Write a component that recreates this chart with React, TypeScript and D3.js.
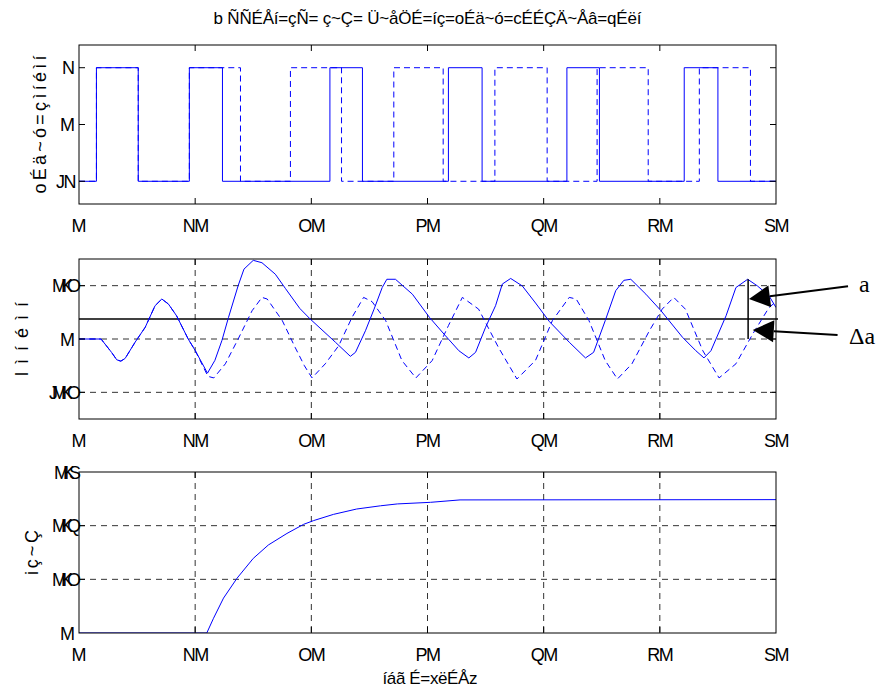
import React from "react";
import * as d3 from "d3";

// ---------- data ----------
const xTicks = [0, 10, 20, 30, 40, 50, 60];
const xTickLabels = ["M", "NM", "OM", "PM", "QM", "RM", "SM"];

const relayTicks = [-1, 0, 1];
const relayTickLabels = ["JN", "M", "N"];
const outTicks = [-0.2, 0, 0.2];
const outTickLabels = ["JMKO", "M", "MKO"];
const loadTicks = [0, 0.2, 0.4, 0.6];
const loadTickLabels = ["M", "MKO", "MKQ", "MKS"];

const titleText = "b ÑÑÉÅí=çÑ= ç~Ç= Ü~åÖÉ=íç=oÉä~ó=cÉÉÇÄ~Åâ=qÉëí";
const yLabel1 = "oÉä~ó=çìíéìí";
const yLabel2 = "lìíéìí";
const yLabel3 = "iç~Ç";
const xLabelText = "íáã É=xëÉÅz";

// relay output (step signals): switching times and levels
const relaySolidT = [0, 1.5, 5.1, 9.5, 12.35, 21.6, 24.4, 31.8, 34.7, 42.0, 44.8, 52.1, 55.0, 60];
const relaySolidV = [-1, 1, -1, 1, -1, 1, -1, 1, -1, 1, -1, 1, -1, -1];
const relayDashT = [0, 1.5, 5.1, 9.5, 13.9, 18.2, 22.6, 27.1, 31.35, 35.8, 40.3, 44.6, 49.0, 53.4, 57.8, 60];
const relayDashV = [-1, 1, -1, 1, -1, 1, -1, 1, -1, 1, -1, 1, -1, 1, -1, -1];

// process output
const outSolidT = [0, 1.9, 2.8, 3.25, 3.6, 3.97, 4.83, 5.7, 6.55, 7.13, 7.7, 8.4, 9.4, 10.0, 11.06, 11.7, 12.3, 12.87, 13.7, 14.2, 15.0, 15.75, 16.9, 17.76, 19.0, 19.9, 22.07, 23.36, 23.8, 24.66, 25.4, 26.1, 26.5, 27.24, 28.7, 30.17, 31.55, 32.7, 33.56, 34.14, 35.0, 35.86, 36.44, 37.16, 38.16, 39.3, 40.5, 42.2, 43.6, 44.3, 45.3, 46.2, 46.9, 47.5, 48.8, 50.1, 51.96, 53.1, 53.8, 54.4, 55.7, 56.55, 57.56, 58.4, 59.4, 60];
const outSolidV = [0, 0, -0.05, -0.078, -0.083, -0.073, -0.012, 0.044, 0.125, 0.15, 0.131, 0.087, 0, -0.043, -0.128, -0.08, -0.006, 0.081, 0.2, 0.262, 0.295, 0.286, 0.243, 0.19, 0.115, 0.075, -0.012, -0.065, -0.05, 0.031, 0.112, 0.193, 0.224, 0.224, 0.168, 0.081, 0.012, -0.044, -0.071, -0.05, 0.044, 0.125, 0.206, 0.227, 0.199, 0.135, 0.065, -0.012, -0.071, -0.05, 0.069, 0.181, 0.22, 0.224, 0.168, 0.106, 0.006, -0.044, -0.071, -0.044, 0.087, 0.193, 0.224, 0.199, 0.162, 0.118];
const outDashT = [0, 1.9, 2.8, 3.25, 3.6, 3.97, 4.83, 5.7, 6.55, 7.13, 7.7, 8.4, 9.4, 10.0, 11.1, 11.6, 12.6, 13.7, 14.9, 15.75, 16.2, 17.5, 18.6, 19.4, 20.06, 21.2, 22.36, 23.5, 24.5, 25.23, 26.4, 27.8, 29.0, 30.4, 31.8, 33.0, 34.4, 36.1, 37.7, 39.3, 40.75, 42.2, 42.8, 43.9, 45.3, 46.35, 47.6, 49.1, 50.2, 51.2, 52.2, 53.7, 55.1, 56.55, 58.0, 59.4, 60];
const outDashV = [0, 0, -0.05, -0.078, -0.083, -0.073, -0.012, 0.044, 0.125, 0.15, 0.131, 0.087, 0, -0.043, -0.14, -0.146, -0.093, 0, 0.106, 0.156, 0.15, 0.069, -0.031, -0.1, -0.146, -0.093, -0.025, 0.081, 0.156, 0.14, 0.069, -0.081, -0.146, -0.081, 0.05, 0.156, 0.112, -0.031, -0.15, -0.08, 0.069, 0.156, 0.15, 0.069, -0.081, -0.15, -0.093, 0.031, 0.112, 0.156, 0.112, -0.044, -0.146, -0.093, 0.019, 0.118, 0.14];

// load estimate
const loadT = [0, 11.0, 11.58, 12.44, 13.6, 15.0, 16.3, 17.9, 19.34, 20.2, 21.9, 23.9, 25.95, 27.4, 30.26, 32.8, 60];
const loadV = [0, 0, 0.055, 0.13, 0.204, 0.278, 0.328, 0.371, 0.405, 0.419, 0.442, 0.462, 0.474, 0.481, 0.487, 0.496, 0.497];

// annotation (data coordinates)
const refLevel = 0.075;
const markT = 57.6;
const markTop = 0.224;
const arrowA = { tail: [66.2, 0.198], tip: [57.67, 0.15] };
const arrowDA = { tail: [65.3, 0.015], tip: [58.0, 0.034] };

// ---------- layout ----------
const W = 877;
const H = 693;
const L = 79;
const R = 776;
const BLUE = "#0000ff";
const SANS = "'Liberation Sans', Arial, sans-serif";
const SERIF = "'Liberation Serif', 'Times New Roman', serif";

const x = d3.scaleLinear().domain([0, 60]).range([L, R]);

type PanelProps = {
  id: string;
  top: number;
  bottom: number;
  domain: [number, number];
  yTicks: number[];
  yTickLabels: string[];
  grid: boolean;
  yLabel: string;
  yLabelX: number;
  yLabelLen: number;
  children?: (y: d3.ScaleLinear<number, number>) => React.ReactNode;
};

function spacingFor(s: string) {
  if (s.includes("K")) return -6;
  if (s.length > 1) return -1.5;
  return 0;
}

function Panel(p: PanelProps) {
  const y = d3.scaleLinear().domain(p.domain).range([p.bottom, p.top]);
  const tickLen = 6;
  const innerX = xTicks.filter((t) => t > 0 && t < 60);
  const innerY = p.yTicks.filter((t) => t > p.domain[0] && t < p.domain[1]);
  const cy = (p.top + p.bottom) / 2;
  return (
    <g>
      <defs>
        <clipPath id={"clip" + p.id}>
          <rect x={L} y={p.top} width={R - L} height={p.bottom - p.top} />
        </clipPath>
      </defs>
      <rect x={L} y={p.top} width={R - L} height={p.bottom - p.top} fill="#fff" />
      {p.grid && (
        <g stroke="#333" strokeWidth={1} strokeDasharray="6,5">
          {innerX.map((t) => (
            <line key={"gx" + t} x1={x(t)} x2={x(t)} y1={p.top} y2={p.bottom} />
          ))}
          {innerY.map((t) => (
            <line key={"gy" + t} x1={L} x2={R} y1={y(t)} y2={y(t)} />
          ))}
        </g>
      )}
      <g clipPath={`url(#clip${p.id})`}>{p.children && p.children(y)}</g>
      <g stroke="#000" strokeWidth={1}>
        {innerX.map((t) => (
          <g key={"tx" + t}>
            <line x1={x(t)} x2={x(t)} y1={p.bottom} y2={p.bottom - tickLen} />
            <line x1={x(t)} x2={x(t)} y1={p.top} y2={p.top + tickLen} />
          </g>
        ))}
        {innerY.map((t) => (
          <g key={"ty" + t}>
            <line x1={L} x2={L + tickLen} y1={y(t)} y2={y(t)} />
            <line x1={R} x2={R - tickLen} y1={y(t)} y2={y(t)} />
          </g>
        ))}
        <rect x={L} y={p.top} width={R - L} height={p.bottom - p.top} fill="none" />
      </g>
      <g fontFamily={SANS} fontSize={18} fill="#000">
        {xTicks.map((t, i) => (
          <text
            key={"xl" + t}
            x={x(t)}
            y={p.bottom + 28}
            textAnchor="middle"
            letterSpacing={spacingFor(xTickLabels[i])}
          >
            {xTickLabels[i]}
          </text>
        ))}
        {p.yTicks.map((t, i) => (
          <text
            key={"yl" + t}
            x={L - 4}
            y={y(t) + 6.5}
            textAnchor="end"
            letterSpacing={spacingFor(p.yTickLabels[i])}
          >
            {p.yTickLabels[i]}
          </text>
        ))}
      </g>
      <text
        transform={`translate(${p.yLabelX},${cy}) rotate(-90)`}
        textAnchor="middle"
        fontFamily={SANS}
        fontSize={18}
        textLength={p.yLabelLen}
        lengthAdjust="spacing"
      >
        {p.yLabel}
      </text>
    </g>
  );
}

function Arrow({ tail, tip, y }: { tail: number[]; tip: number[]; y: d3.ScaleLinear<number, number> }) {
  const x0 = x(tail[0]);
  const y0 = y(tail[1]);
  const x1 = x(tip[0]);
  const y1 = y(tip[1]);
  const ang = Math.atan2(y1 - y0, x1 - x0);
  const len = 21;
  const hw = 11;
  const bx = x1 - len * Math.cos(ang);
  const by = y1 - len * Math.sin(ang);
  const px = -Math.sin(ang) * hw;
  const py = Math.cos(ang) * hw;
  const head = d3.path();
  head.moveTo(x1, y1);
  head.lineTo(bx + px, by + py);
  head.lineTo(bx - px, by - py);
  head.closePath();
  return (
    <g>
      <line x1={x0} y1={y0} x2={bx} y2={by} stroke="#000" strokeWidth={2} />
      <path d={head.toString()} fill="#000" />
    </g>
  );
}

export default function App() {
  const stepLine = (ts: number[], vs: number[], y: d3.ScaleLinear<number, number>) =>
    d3
      .line<number>()
      .x((_, i) => x(ts[i]))
      .y((v) => y(v))
      .curve(d3.curveStepAfter)(vs) || "";
  const polyLine = (ts: number[], vs: number[], y: d3.ScaleLinear<number, number>) =>
    d3
      .line<number>()
      .x((_, i) => x(ts[i]))
      .y((v) => y(v))(vs) || "";

  const y2 = d3.scaleLinear().domain([-0.3, 0.3]).range([419, 259]);

  return (
    <svg width={W} height={H} style={{ display: "block", position: "absolute", left: 0, top: 0 }}>
      <rect width={W} height={H} fill="#fff" />
      <text x={(L + R) / 2} y={24} textAnchor="middle" fontFamily={SANS} fontSize={17} textLength={428} lengthAdjust="spacing">
        {titleText}
      </text>

      <Panel
        id="1"
        top={45}
        bottom={204}
        domain={[-1.4, 1.4]}
        yTicks={relayTicks}
        yTickLabels={relayTickLabels}
        grid={false}
        yLabel={yLabel1}
        yLabelX={46}
        yLabelLen={138}
      >
        {(y) => (
          <g fill="none" stroke={BLUE} strokeWidth={1}>
            <path d={stepLine(relaySolidT, relaySolidV, y)} />
            <path d={stepLine(relayDashT, relayDashV, y)} strokeDasharray="6,4" />
          </g>
        )}
      </Panel>

      <Panel
        id="2"
        top={259}
        bottom={419}
        domain={[-0.3, 0.3]}
        yTicks={outTicks}
        yTickLabels={outTickLabels}
        grid={true}
        yLabel={yLabel2}
        yLabelX={28}
        yLabelLen={74}
      >
        {(y) => (
          <g>
            <line x1={L} x2={R} y1={y(refLevel)} y2={y(refLevel)} stroke="#000" strokeWidth={1.5} />
            <g fill="none" stroke={BLUE} strokeWidth={1}>
              <path d={polyLine(outDashT, outDashV, y)} strokeDasharray="6,4" />
              <path d={polyLine(outSolidT, outSolidV, y)} />
            </g>
            <line x1={x(markT)} x2={x(markT)} y1={y(markTop)} y2={y(0)} stroke="#000" strokeWidth={1.5} />
          </g>
        )}
      </Panel>

      <Panel
        id="3"
        top={472}
        bottom={633}
        domain={[0, 0.6]}
        yTicks={loadTicks}
        yTickLabels={loadTickLabels}
        grid={true}
        yLabel={yLabel3}
        yLabelX={38}
        yLabelLen={45}
      >
        {(y) => <path d={polyLine(loadT, loadV, y)} fill="none" stroke={BLUE} strokeWidth={1} />}
      </Panel>

      <line x1={R} x2={R + 2} y1={y2(refLevel)} y2={y2(refLevel)} stroke="#000" strokeWidth={1.5} />
      <Arrow tail={arrowA.tail} tip={arrowA.tip} y={y2} />
      <Arrow tail={arrowDA.tail} tip={arrowDA.tip} y={y2} />
      <text x={859} y={y2(0.176)} fontFamily={SERIF} fontSize={24}>
        a
      </text>
      <text x={849} y={y2(-0.019)} fontFamily={SERIF} fontSize={24}>
        Δa
      </text>

      <text x={430} y={684} textAnchor="middle" fontFamily={SANS} fontSize={17} textLength={95} lengthAdjust="spacing">
        {xLabelText}
      </text>
    </svg>
  );
}
